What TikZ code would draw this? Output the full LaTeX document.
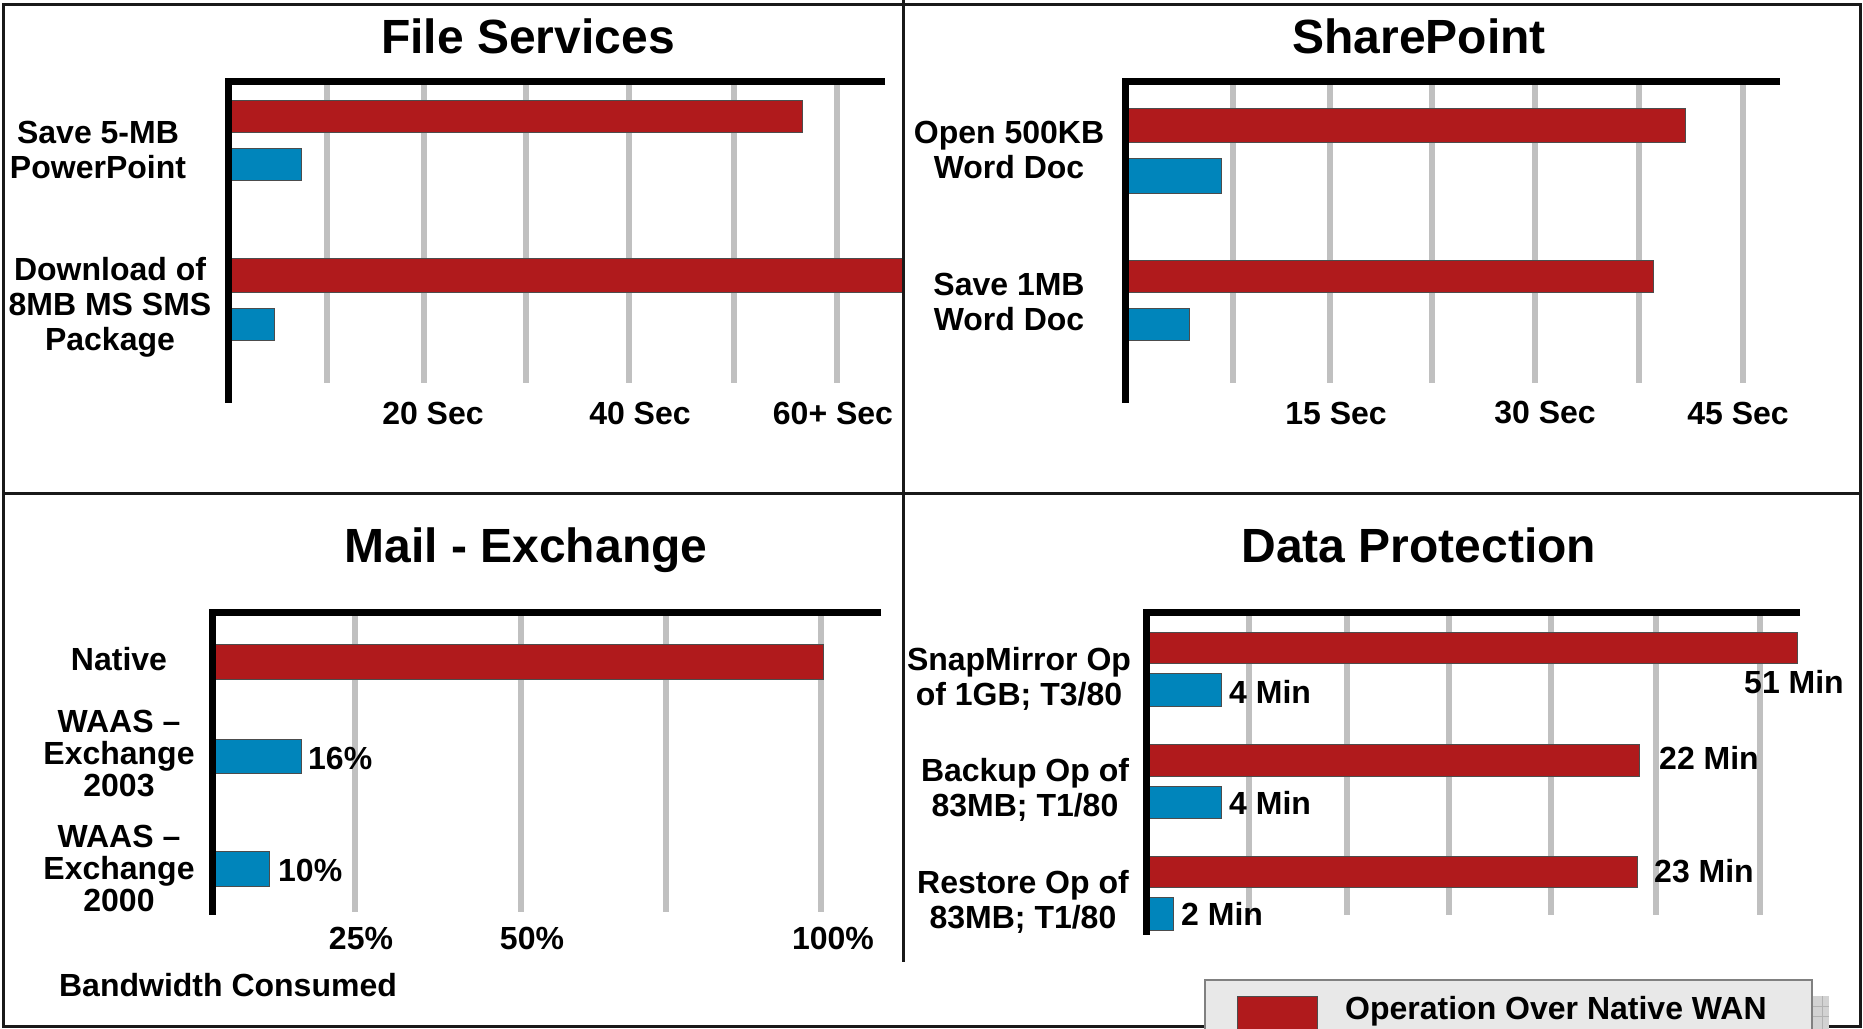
\documentclass[tikz,border=0pt]{standalone}
\usepackage{fontspec}
\setmainfont{Liberation Sans}
\usetikzlibrary{positioning}
\definecolor{wanred}{RGB}{176,26,28}
\definecolor{waasblue}{RGB}{0,133,187}
\definecolor{gridgray}{RGB}{192,192,192}
\definecolor{legendgray}{RGB}{232,232,232}

\begin{document}
\begin{tikzpicture}[x=1pt,y=-1pt,
 title/.style={font=\fontsize{48}{52}\selectfont\bfseries,anchor=base},
 cat/.style={font=\fontsize{32}{35}\selectfont\bfseries,align=center,inner sep=0pt},
 tightcat/.style={cat,font=\fontsize{32}{32}\selectfont\bfseries},
 tick/.style={font=\fontsize{32}{34}\selectfont\bfseries,inner sep=0pt},
 val/.style={font=\fontsize{32}{34}\selectfont\bfseries,inner sep=0pt,anchor=west},
 gridln/.style={gridgray,line width=6pt},
 axisln/.style={line width=7pt},
 redbar/.style={fill=wanred,draw=black!70,line width=1pt},
 bluebar/.style={fill=waasblue,draw=black!70,line width=1pt},
 frameln/.style={line width=3pt,black!90}]
 \clip (0,0) rectangle (1863,1028);

 % File Services
 \node[title] (fs) at (528,53) {File Services};
 \foreach \x in {327,424,526,629,734,837}
  \draw[gridln] (\x,84) -- (\x,383);
 \draw[redbar] (228,100) rectangle (802,132);
 \draw[bluebar] (228,148) rectangle (301,180);
 \draw[redbar] (228,258) rectangle (903,292);
 \draw[bluebar] (228,308) rectangle (274,340);
 \draw[axisln] (885,81) -- (228,81) -- (228,403);
 \node[cat] (fs_ppt) at (98,150) {Save 5-MB\\PowerPoint};
 \node[cat] (fs_sms) at (110,307) {Download of\\8MB MS SMS\\Package};
 \node[tick] (fs_t1) at (433,413) {20 Sec};
 \node[tick] (fs_t2) at (640,413) {40 Sec};
 \node[tick] (fs_t3) at (833,413) {60+ Sec};

 % SharePoint
 \node[title] (sp) at (1419,53) {SharePoint};
 \foreach \x in {1233,1330,1432,1535,1639,1743}
  \draw[gridln] (\x,84) -- (\x,383);
 \draw[redbar] (1125,108) rectangle (1685,142);
 \draw[bluebar] (1125,158) rectangle (1221,193);
 \draw[redbar] (1125,260) rectangle (1653,292);
 \draw[bluebar] (1125,308) rectangle (1189,340);
 \draw[axisln] (1780,81) -- (1125,81) -- (1125,403);
 \node[cat] (sp_open) at (1009,150) {Open 500KB\\Word Doc};
 \node[cat] (sp_save) at (1009,302) {Save 1MB\\Word Doc};
 \node[tick] (sp_t1) at (1336,413) {15 Sec};
 \node[tick] (sp_t2) at (1545,413) {30 Sec};
 \node[tick] (sp_t3) at (1738,413) {45 Sec};

 % Mail - Exchange
 \node[title] (mx) at (526,562) {Mail - Exchange};
 \foreach \x in {355,521,666,821}
  \draw[gridln] (\x,616) -- (\x,912);
 \draw[redbar] (212,644) rectangle (823,679);
 \draw[bluebar] (212,739) rectangle (301,773);
 \draw[bluebar] (212,851) rectangle (269,886);
 \draw[axisln] (881,612) -- (212,612) -- (212,915);
 \node[cat] (mx_nat) at (119,659) {Native};
 \node[tightcat] (mx_03) at (119,753) {WAAS –\\Exchange\\2003};
 \node[tightcat] (mx_00) at (119,868) {WAAS –\\Exchange\\2000};
 \node[val] (mx_v03) at (308,758) {16\%};
 \node[val] (mx_v00) at (278,870) {10\%};
 \node[tick] (mx_t1) at (361,938) {25\%};
 \node[tick] (mx_t2) at (532,938) {50\%};
 \node[tick] (mx_t3) at (833,938) {100\%};
 \node[tick] (mx_bw) at (228,985) {Bandwidth Consumed};

 % Data Protection
 \node[title] (dp) at (1419,562) {Data Protection};
 \foreach \x in {1249,1347,1449,1551,1656,1760}
  \draw[gridln] (\x,616) -- (\x,915);
 \draw[redbar] (1146,632) rectangle (1797,663);
 \draw[bluebar] (1146,673) rectangle (1221,706);
 \draw[redbar] (1146,744) rectangle (1639,776);
 \draw[bluebar] (1146,786) rectangle (1221,818);
 \draw[redbar] (1144,856) rectangle (1637,887);
 \draw[bluebar] (1144,897) rectangle (1173,930);
 \draw[axisln] (1800,612) -- (1146,612) -- (1146,935);
 \node[cat] (dp_snap) at (1019,679) {SnapMirror Op\\of 1GB; T3/80};
 \node[cat] (dp_back) at (1025,790) {Backup Op of\\83MB; T1/80};
 \node[cat] (dp_rest) at (1023,902) {Restore Op of\\83MB; T1/80};
 \node[tick] (dp_v1) at (1794,682) {51 Min};
 \node[val] (dp_v2) at (1229,692) {4 Min};
 \node[val] (dp_v3) at (1659,758) {22 Min};
 \node[val] (dp_v4) at (1229,803) {4 Min};
 \node[val] (dp_v5) at (1654,871) {23 Min};
 \node[val] (dp_v6) at (1181,914) {2 Min};

 % frame
 \draw[frameln] (3,4) rectangle (1860,1026);
 \draw[frameln] (3,493) -- (1860,493);
 \draw[frameln] (903,0) -- (903,962);

 % legend
 \fill[gray!35] (1812,996) rectangle (1829,1040);
 \draw[gray!60,line width=0.8pt] (1822,996) -- (1822,1040)
  (1812,1006) -- (1829,1006) (1812,1016) -- (1829,1016);
 \draw[fill=legendgray,draw=gray,line width=1.5pt] (1205,980) rectangle (1812,1040);
 \draw[redbar] (1237,996) rectangle (1317,1040);
 \node[val] (lg_wan) at (1345,1011) {Operation Over Native WAN};
\end{tikzpicture}
\end{document}
